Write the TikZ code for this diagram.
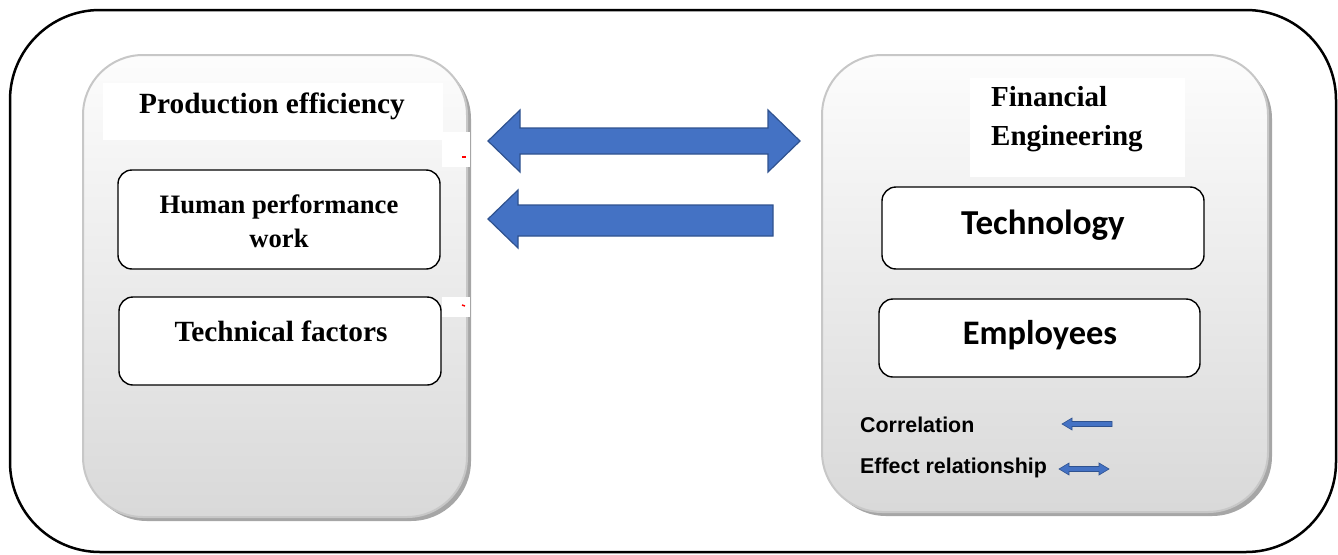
\documentclass[tikz,border=0pt]{standalone}
\usepackage{fontspec}
\setmainfont{Liberation Serif}
\newfontfamily\carl{Carlito}
\newfontfamily\arialf{Liberation Sans}
\begin{document}
\begin{tikzpicture}[x=1pt,y=-1pt,
  frame/.style={draw=black,line width=2.5pt,rounded corners=90pt},
  panelshadow/.style={fill=black!35,draw=none,rounded corners=60pt},
  panel/.style={draw=black!22,line width=2pt,rounded corners=60pt,top color=black!1,bottom color=black!15},
  titlebg/.style={fill=white,draw=none},
  innerbox/.style={draw=black,line width=1.4pt,fill=white,rounded corners=14pt},
  serif/.style={font=\fontsize{29.3}{34}\selectfont\bfseries,inner sep=0pt,align=center},
  sans/.style={font=\carl\fontsize{35}{38}\selectfont\bfseries,inner sep=0pt},
  legend/.style={font=\arialf\fontsize{21.4}{24}\selectfont\bfseries,inner sep=0pt,anchor=west},
  bigarrow/.style={fill={rgb,255:red,68;green,114;blue,196},draw={rgb,255:red,47;green,82;blue,143},line width=1.2pt,line join=miter},
  smallarrow/.style={fill={rgb,255:red,68;green,114;blue,196},draw={rgb,255:red,47;green,82;blue,143},line width=0.6pt},
  redmark/.style={draw=red,line width=1.5pt}
]
\useasboundingbox (0,0) rectangle (1338,554);
% outer frame
\draw[frame] (10,10) rectangle (1336,552);

% left panel
\fill[panelshadow] (87,59) rectangle (471,521);
\path[panel] (83,55) rectangle (467,517);
\fill[titlebg] (103,83) rectangle (443,140);
\fill[titlebg] (442,132) rectangle (470,167);
\fill[titlebg] (442,297) rectangle (470,317);
\draw[redmark] (462,157) -- (466,157);
\draw[redmark] (462,305) -- (465,306);
\node[serif] (pe) at (272,106) {Production efficiency};
\node[innerbox,minimum width=322pt,minimum height=99pt] (hp) at (279,219.5) {};
\node[serif,font=\fontsize{26.6}{34}\selectfont\bfseries] (hpt) at (279,221) {Human performance\\work};
\node[innerbox,minimum width=322pt,minimum height=88pt] (tf) at (280,341) {};
\node[serif] (tft) at (281,331) {Technical factors};

% right panel
\fill[panelshadow] (826,59) rectangle (1272,516);
\path[panel] (822,55) rectangle (1268,512);
\fill[titlebg] (970,78) rectangle (1185,177);
\node[serif,font=\fontsize{29}{39}\selectfont\bfseries,align=left,anchor=west] (fe) at (991,119.5) {Financial\\Engineering};
\node[innerbox,minimum width=322pt,minimum height=82pt] (tech) at (1043,228) {};
\node[sans] (techt) at (1043,225) {Technology};
\node[innerbox,minimum width=321pt,minimum height=78pt] (emp) at (1039.5,338) {};
\node[sans,font=\carl\fontsize{34.4}{38}\selectfont\bfseries] (empt) at (1040,335) {Employees};

% legend
\node[legend] (corr) at (860,425) {Correlation};
\node[legend] (eff) at (860,468) {Effect relationship};
\coordinate (c1) at (1062,424);
\coordinate (e1) at (1059,469);
\draw[smallarrow] (c1) -- ++(10,-6) -- ++(0,3.5) -- ++(40,0) -- ++(0,5) -- ++(-40,0) -- ++(0,3.5) -- cycle;
\draw[smallarrow] (e1) -- ++(10,-6) -- ++(0,3.5) -- ++(30,0) -- ++(0,-3.5) -- ++(10,6) -- ++(-10,6) -- ++(0,-3.5) -- ++(-30,0) -- ++(0,3.5) -- cycle;

% big arrows
\coordinate (a1) at (488,141);
\coordinate (a2) at (800,141);
\draw[bigarrow] (a1) -- (520,110) -- (520,128) -- (768,128) -- (768,110) -- (a2) -- (768,172) -- (768,154) -- (520,154) -- (520,172) -- cycle;
\coordinate (b1) at (488,219);
\coordinate (b2) at (773,220.5);
\draw[bigarrow] (b1) -- (518,190) -- (518,205) -- (773,205) -- (773,236) -- (518,236) -- (518,248) -- cycle;
\end{tikzpicture}
\end{document}
